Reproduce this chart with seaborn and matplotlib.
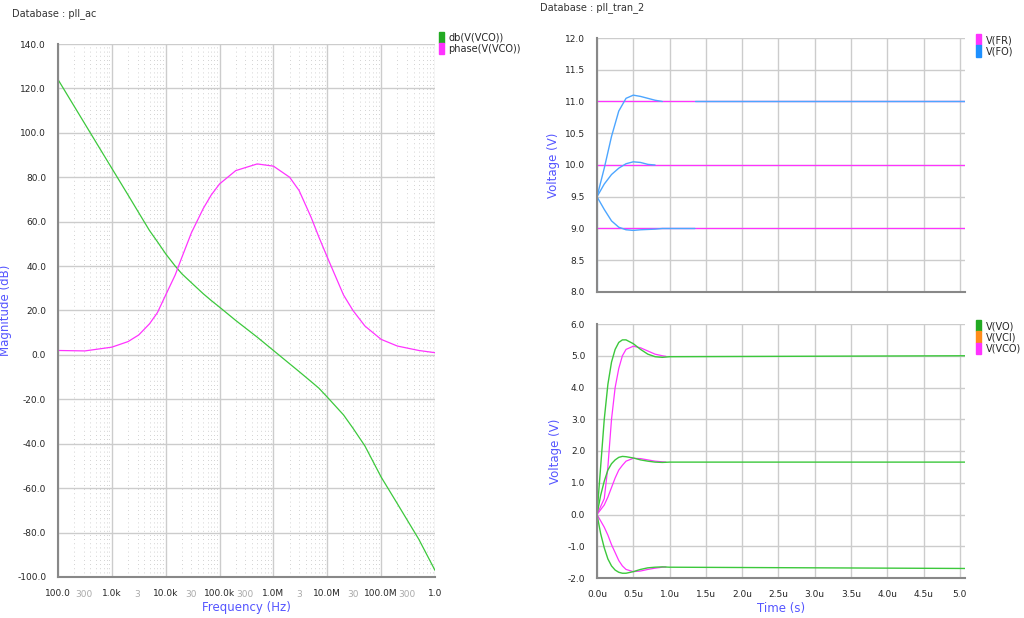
import numpy as np
import pandas as pd
import matplotlib
matplotlib.use("Agg")
import matplotlib.pyplot as plt
import seaborn as sns
from matplotlib.patches import Patch
from matplotlib.ticker import FixedLocator, MultipleLocator, NullFormatter

sns.set_theme(style="white")
plt.rcParams['font.family'] = ['DejaVu Sans']

# ---- AC data ----
freq = [100, 316, 1e3, 2e3, 3.16e3, 5e3, 7e3, 1e4, 1.5e4, 2e4, 3e4, 5e4, 7e4, 1e5, 2e5, 5e5,
        1e6, 2e6, 3e6, 5e6, 7e6, 1e7, 2e7, 3e7, 5e7, 1e8, 2e8, 5e8, 1e9]
mag_db = [124, 104, 84, 72, 64, 56, 51, 45.5, 40, 36.5, 32.5, 27.5, 24.5, 21.5, 15.5, 8,
          2, -4, -7.5, -12, -15, -19, -27, -33, -41, -55, -67, -83, -97]
phase = [2, 1.8, 3.5, 6, 9, 14, 19, 27, 36, 44, 55, 66, 72, 77, 83, 86,
         85, 80, 74, 62, 53, 44, 27, 20, 13, 7, 4, 2, 1]

# ---- transient data (us) ----
fr_levels = [9.0, 10.0, 11.0]
fo_hi_t = [0, 0.1, 0.2, 0.3, 0.4, 0.5, 0.6, 0.7, 0.8, 0.9]
fo_hi_v = [9.5, 9.95, 10.45, 10.85, 11.05, 11.1, 11.08, 11.05, 11.02, 11.0]
fo_hi2_t = [1.35, 5.07]
fo_hi2_v = [11.0, 11.0]
fo_mid_t = [0, 0.1, 0.2, 0.3, 0.4, 0.5, 0.6, 0.7, 0.8]
fo_mid_v = [9.5, 9.7, 9.85, 9.95, 10.02, 10.05, 10.04, 10.01, 10.0]
fo_lo_t = [0, 0.1, 0.2, 0.3, 0.4, 0.5, 0.6, 0.8, 0.9, 1.35]
fo_lo_v = [9.5, 9.3, 9.12, 9.02, 8.98, 8.97, 8.98, 8.99, 9.0, 9.0]

vo_t = [0, 0.05, 0.1, 0.15, 0.2, 0.25, 0.3, 0.35, 0.4, 0.5, 0.6, 0.7, 0.8, 0.9, 1.0, 5.07]
vo_hi = [0, 1.5, 3.0, 4.1, 4.8, 5.2, 5.42, 5.5, 5.5, 5.38, 5.2, 5.05, 4.97, 4.95, 4.97, 5.0]
vo_mid = [0, 0.6, 1.05, 1.4, 1.6, 1.72, 1.8, 1.83, 1.82, 1.78, 1.72, 1.68, 1.65, 1.64, 1.65, 1.65]
vo_lo = [0, -0.6, -1.05, -1.4, -1.62, -1.75, -1.82, -1.85, -1.85, -1.8, -1.73, -1.68, -1.66, -1.65, -1.66, -1.7]
vco_t = [0, 0.1, 0.15, 0.2, 0.25, 0.3, 0.35, 0.4, 0.5, 0.6, 0.7, 0.8, 0.9, 0.95]
vco_hi = [0, 0.5, 1.5, 3.0, 4.0, 4.6, 5.0, 5.2, 5.3, 5.25, 5.15, 5.05, 5.0, 4.98]
vco_mid = [0, 0.3, 0.55, 0.85, 1.15, 1.4, 1.55, 1.68, 1.77, 1.76, 1.72, 1.68, 1.66, 1.65]
vco_lo = [0, -0.4, -0.65, -0.95, -1.2, -1.45, -1.62, -1.73, -1.8, -1.78, -1.73, -1.69, -1.66, -1.65]

GREEN = "#3cc83c"
MAG = "#ff33ff"
BLUE = "#4da6ff"
LBL = "#5555ff"
GRID = "#cccccc"

fig = plt.figure(figsize=(10.24, 6.18), dpi=100)
W, H = 1024, 618
def ax_px(x0, y0, x1, y1):
    return fig.add_axes([x0 / W, 1 - y1 / H, (x1 - x0) / W, (y1 - y0) / H])

def style(ax):
    for s in ["top", "right"]:
        ax.spines[s].set_visible(False)
    for s in ["left", "bottom"]:
        ax.spines[s].set_color("#888888")
        ax.spines[s].set_linewidth(1.5)
    ax.tick_params(which="both", direction="out", color="#888888", labelsize=6.5, width=0.8)
    ax.tick_params(which="major", length=5)
    ax.tick_params(which="minor", length=3)

def legend(ax, handles, x):
    ax.legend(handles=handles, loc="upper left", bbox_to_anchor=(x, 1.03), frameon=False, fontsize=7,
              handlelength=0.5, handleheight=1.4, handletextpad=0.5, labelspacing=0.0, borderaxespad=0)

# ---- left AC ----
ax = ax_px(58, 44, 435, 577)
style(ax)
ac = pd.DataFrame({"f": freq, "db": mag_db, "ph": phase})
sns.lineplot(data=ac, x="f", y="db", ax=ax, color=GREEN, lw=0.9)
sns.lineplot(data=ac, x="f", y="ph", ax=ax, color=MAG, lw=0.9)
ax.set_xscale("log")
ax.set_xlim(100, 1e9)
ax.set_ylim(-100, 140)
ax.set_xticks([1e2, 1e3, 1e4, 1e5, 1e6, 1e7, 1e8, 1e9])
ax.set_xticklabels(["100.0", "1.0k", "10.0k", "100.0k", "1.0M", "10.0M", "100.0M", "1.0"])
minors = [d * m for d in [1e2, 1e3, 1e4, 1e5, 1e6, 1e7, 1e8] for m in range(2, 10)]
ax.xaxis.set_minor_locator(FixedLocator(minors))
ax.xaxis.set_minor_formatter(NullFormatter())
for d, lab in zip([1e2, 1e3, 1e4, 1e5, 1e6, 1e7, 1e8], ["300", "3", "30", "300", "3", "30", "300"]):
    ax.text(3 * d, -0.025, lab, transform=ax.get_xaxis_transform(), ha="center", va="top", fontsize=6.5, color="#aaaaaa")
ax.set_yticks(np.arange(-100, 141, 20))
ax.set_yticklabels([f"{v:.1f}" for v in np.arange(-100, 141, 20)])
ax.yaxis.set_minor_locator(MultipleLocator(4))
ax.grid(which="major", color=GRID, lw=1.0)
ax.grid(which="minor", axis="x", color="#c4c4c4", lw=0.6, ls=(0, (1, 4)))
ax.set_xlabel("Frequency (Hz)", color=LBL, fontsize=8.5, labelpad=2)
ax.set_ylabel("Magnitude (dB)", color=LBL, fontsize=8.5)
legend(ax, [Patch(color="#22aa22", label="db(V(VCO))"), Patch(color=MAG, label="phase(V(VCO))")], 1.0)
fig.text(12 / W, 1 - 14 / H, "Database : pll_ac", fontsize=7, color="#333333", va="center")
fig.text(540 / W, 1 - 8 / H, "Database : pll_tran_2", fontsize=7, color="#333333", va="center")

# ---- right top ----
a1 = ax_px(597, 38, 965, 292)
style(a1)
for lv in fr_levels:
    sns.lineplot(x=[0, 5.07], y=[lv, lv], ax=a1, color=MAG, lw=0.9)
for tt, vv in [(fo_hi_t, fo_hi_v), (fo_hi2_t, fo_hi2_v), (fo_mid_t, fo_mid_v), (fo_lo_t, fo_lo_v)]:
    sns.lineplot(x=tt, y=vv, ax=a1, color=BLUE, lw=1.0, sort=False)
a1.plot([0, 0], [8, 9.5], color=BLUE, lw=1.5)
a1.set_xlim(0, 5.07)
a1.set_ylim(8, 12)
a1.set_xticks(np.arange(0, 5.01, 0.5))
a1.set_xticklabels([])
a1.xaxis.set_minor_locator(MultipleLocator(0.25))
a1.set_yticks(np.arange(8, 12.01, 0.5))
a1.set_yticklabels([f"{v:.1f}" for v in np.arange(8, 12.01, 0.5)])
a1.yaxis.set_minor_locator(MultipleLocator(0.25))
a1.grid(which="major", color=GRID, lw=1.0)
a1.set_ylabel("Voltage (V)", color=LBL, fontsize=8.5)
legend(a1, [Patch(color=MAG, label="V(FR)"), Patch(color="#1e90ff", label="V(FO)")], 1.02)

# ---- right bottom ----
a2 = ax_px(597, 324, 965, 578)
style(a2)
for vv in [vco_hi, vco_mid, vco_lo]:
    sns.lineplot(x=vco_t, y=vv, ax=a2, color=MAG, lw=0.9, sort=False)
for vv in [vo_hi, vo_mid, vo_lo]:
    sns.lineplot(x=vo_t, y=vv, ax=a2, color=GREEN, lw=1.0, sort=False)
a2.set_xlim(0, 5.07)
a2.set_ylim(-2, 6)
a2.set_xticks(np.arange(0, 5.01, 0.5))
a2.set_xticklabels([f"{v:.1f}u" for v in np.arange(0, 5.01, 0.5)][:-1] + ["5.0"])
a2.xaxis.set_minor_locator(MultipleLocator(0.25))
a2.set_yticks(np.arange(-2, 6.01, 1))
a2.set_yticklabels([f"{v:.1f}" for v in np.arange(-2, 6.01, 1)])
a2.yaxis.set_minor_locator(MultipleLocator(0.5))
a2.grid(which="major", color=GRID, lw=1.0)
a2.set_xlabel("Time (s)", color=LBL, fontsize=8.5, labelpad=2)
a2.set_ylabel("Voltage (V)", color=LBL, fontsize=8.5)
legend(a2, [Patch(color="#22aa22", label="V(VO)"), Patch(color="#ff8c1a", label="V(VCI)"), Patch(color=MAG, label="V(VCO)")], 1.02)

fig.savefig("out.png", dpi=100)
